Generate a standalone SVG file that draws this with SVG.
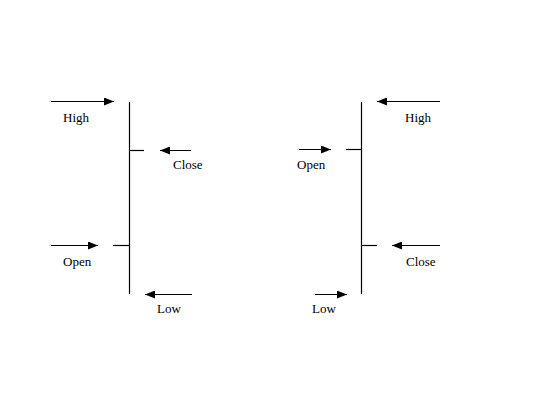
<svg xmlns="http://www.w3.org/2000/svg" width="548" height="407" viewBox="0 0 548 407">
<style>
.bar{stroke:#000;stroke-width:1.2;fill:none}
.arr{stroke:#000;stroke-width:1;fill:none;marker-end:url(#ah)}
.lbl{font-family:"Liberation Serif","Times New Roman",serif;font-size:13px;fill:#000}
</style>
<defs>
<marker id="ah" markerUnits="userSpaceOnUse" markerWidth="11" markerHeight="8" refX="10" refY="4" orient="auto">
<path d="M0,0 L10,4 L0,8 Z" fill="#000"/>
</marker>
</defs>
<rect width="548" height="407" fill="#fff"/>
<g id="bar-left">
<line class="bar" x1="129.5" y1="102" x2="129.5" y2="294"/>
<line class="bar" x1="129.5" y1="150.5" x2="144" y2="150.5"/>
<line class="bar" x1="113" y1="245.5" x2="129.5" y2="245.5"/>
</g>
<g id="bar-right">
<line class="bar" x1="361.5" y1="102" x2="361.5" y2="294"/>
<line class="bar" x1="346" y1="149.5" x2="361.5" y2="149.5"/>
<line class="bar" x1="361.5" y1="245.5" x2="377" y2="245.5"/>
</g>
<g id="connectors">
<line class="arr" x1="51" y1="101.5" x2="114" y2="101.5"/>
<line class="arr" x1="191" y1="150.5" x2="160" y2="150.5"/>
<line class="arr" x1="51" y1="245.5" x2="98" y2="245.5"/>
<line class="arr" x1="192" y1="294.5" x2="145" y2="294.5"/>
<line class="arr" x1="440" y1="101.5" x2="377" y2="101.5"/>
<line class="arr" x1="299" y1="149.5" x2="331" y2="149.5"/>
<line class="arr" x1="440" y1="245.5" x2="392" y2="245.5"/>
<line class="arr" x1="315" y1="294.5" x2="347" y2="294.5"/>
</g>
<g id="labels">
<text class="lbl" x="63" y="122">High</text>
<text class="lbl" x="173" y="169">Close</text>
<text class="lbl" x="63" y="266">Open</text>
<text class="lbl" x="157" y="313">Low</text>
<text class="lbl" x="405" y="122">High</text>
<text class="lbl" x="297" y="169">Open</text>
<text class="lbl" x="406" y="266">Close</text>
<text class="lbl" x="312" y="313">Low</text>
</g>
</svg>
